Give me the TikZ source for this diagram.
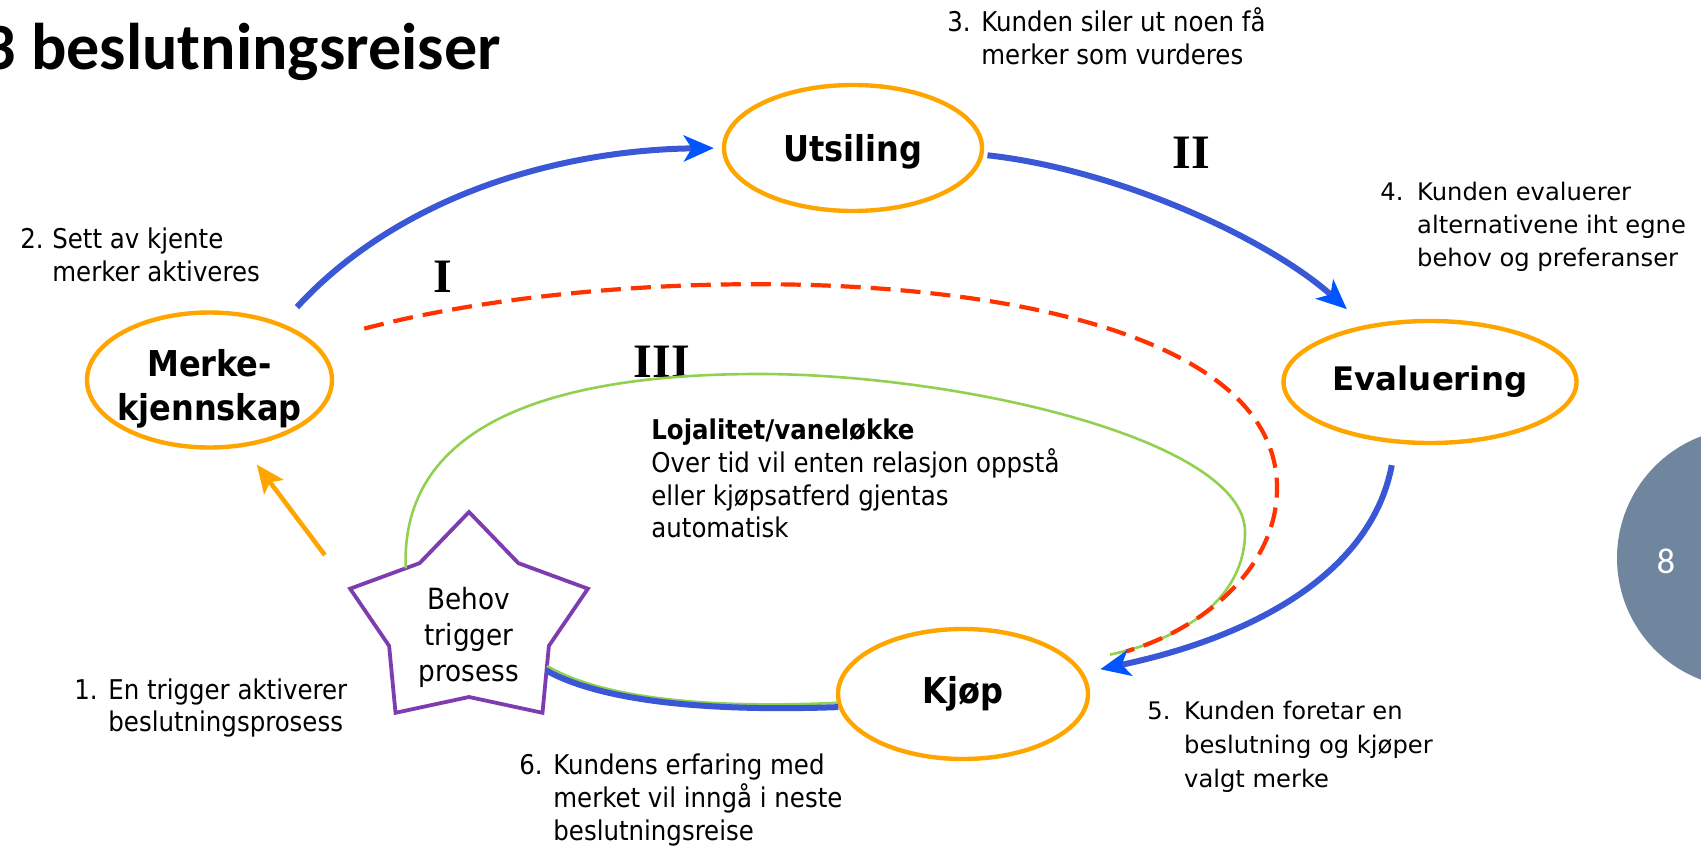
\documentclass[tikz,border=0pt]{standalone}
\usepackage{fontspec}
\setmainfont{DejaVu Sans Condensed}
\newfontfamily\widesans{DejaVu Sans}
\newfontfamily\headfont{Carlito}
\newfontfamily\numeralfont{Liberation Serif}
\usetikzlibrary{arrows.meta,calc,shapes.geometric}

\definecolor{ringorange}{RGB}{255,165,0}
\definecolor{flowblue}{RGB}{58,88,214}
\definecolor{tipblue}{RGB}{0,85,255}
\definecolor{loopred}{RGB}{255,51,0}
\definecolor{loopgreen}{RGB}{146,208,80}
\definecolor{starpurple}{RGB}{125,60,175}
\definecolor{slate}{RGB}{112,134,158}

\begin{document}
\begin{tikzpicture}[x=0.5pt,y=-0.5pt,
  stagering/.style={ellipse, draw=ringorange, line width=2.2pt, inner sep=0pt},
  stagetext/.style={inner sep=0pt, align=center, font=\bfseries\fontsize{17.8}{22}\selectfont},
  notetext/.style={inner sep=0pt, anchor=base west, font=\fontsize{13.6}{16.3}\selectfont},
  widenote/.style={inner sep=0pt, anchor=base west, font=\widesans\fontsize{12.1}{16.3}\selectfont},
  numeral/.style={inner sep=0pt, font=\numeralfont\bfseries\fontsize{24}{24}\selectfont},
  flowarrow/.style={draw=flowblue, line width=3pt, -{Stealth[length=15pt,width=13pt,inset=4pt,color=tipblue]}},
  flowline/.style={draw=flowblue, line width=3pt},
  habitloop/.style={draw=loopred, line width=2.1pt, dash pattern=on 10pt off 5pt},
  loyalloop/.style={draw=loopgreen, line width=1.3pt},
  triggerarrow/.style={draw=ringorange, line width=2.3pt, -{Stealth[length=14pt,width=12pt,inset=3pt]}},
  starline/.style={draw=starpurple, line width=1.9pt, fill=white, line join=miter},
]
\useasboundingbox (0,0) rectangle (1701,850);
\clip (0,0) rectangle (1701,850);

% page number disc
\fill[slate] (1747,558) circle (65pt);
\node[inner sep=0pt, text=white, font=\headfont\fontsize{18}{18}\selectfont] (pagenum) at (1666,561) {8};

% heading
\node[anchor=base east, inner sep=0pt, font=\headfont\bfseries\fontsize{33}{33}\selectfont] (heading) at (501,70) {3 beslutningsreiser};

% the four stages
\node[stagering, minimum width=129pt, minimum height=63pt] (utsiling) at (853,148) {};
\node[stagetext] (utsiling-t) at (853,152) {Utsiling};
\node[stagering, minimum width=122.5pt, minimum height=67.5pt] (merke) at (209.5,380) {};
\node[stagetext] (merke-t) at (209.5,389) {Merke-\\kjennskap};
\node[stagering, minimum width=146.5pt, minimum height=61pt] (evaluering) at (1430,382) {};
\node[stagetext, font=\widesans\bfseries\fontsize{16.2}{20}\selectfont] (evaluering-t) at (evaluering) {Evaluering};
\node[stagering, minimum width=125pt, minimum height=65pt] (kjop) at (963,694) {};
\node[stagetext] (kjop-t) at (kjop) {Kjøp};

% trigger star
\foreach \k in {0,...,4} {
  \coordinate (so\k) at ({469+125*sin(72*\k)}, {623-111*cos(72*\k)});
  \coordinate (si\k) at ({469+84*sin(72*\k+36)}, {623-74*cos(72*\k+36)});
}
\draw[starline] (so0) -- (si0) -- (so1) -- (si1) -- (so2) -- (si2) -- (so3) -- (si3) -- (so4) -- (si4) -- cycle;
\node[inner sep=0pt, align=center, font=\fontsize{14.6}{18}\selectfont] (startext) at (469,637) {Behov\\trigger\\prosess};

% step notes
\node[notetext] (step1) at (74,699) {\begin{tabular}[t]{@{}l@{}l@{}}\makebox[17pt][l]{1.}&En trigger aktiverer\\&beslutningsprosess\end{tabular}};
\node[notetext] (step2) at (20,249) {\begin{tabular}[t]{@{}l@{}l@{}}\makebox[16pt][l]{2.}&Sett av kjente\\&merker aktiveres\end{tabular}};
\node[notetext] (step3) at (947,32) {\begin{tabular}[t]{@{}l@{}l@{}}\makebox[17pt][l]{3.}&Kunden siler ut noen få\\&merker som vurderes\end{tabular}};
\node[widenote] (step4) at (1380,201) {\begin{tabular}[t]{@{}l@{}l@{}}\makebox[18.4pt][l]{4.}&Kunden evaluerer\\&alternativene iht egne\\&behov og preferanser\end{tabular}};
\node[widenote, font=\widesans\fontsize{12.1}{17}\selectfont] (step5) at (1147,719) {\begin{tabular}[t]{@{}l@{}l@{}}\makebox[18.4pt][l]{5.}&Kunden foretar en\\&beslutning og kjøper\\&valgt merke\end{tabular}};
\node[notetext] (step6) at (519,774) {\begin{tabular}[t]{@{}l@{}l@{}}\makebox[17pt][l]{6.}&Kundens erfaring med\\&merket vil inngå i neste\\&beslutningsreise\end{tabular}};
\node[notetext] (loyalnote) at (651,439) {\begin{tabular}[t]{@{}l@{}}\textbf{Lojalitet/vaneløkke}\\Over tid vil enten relasjon oppstå\\eller kjøpsatferd gjentas\\automatisk\end{tabular}};

% journey numerals
\node[numeral] (journey1) at (443,277) {I};
\node[numeral] (journey2) at (1191,153) {II};
\node[numeral] (journey3) at (662,362) {III};

% loyalty loop (green) from the trigger round to the purchase and back
\coordinate (loyaltop) at (759,374);
\coordinate (loyalright) at (1245,532);
\draw[loyalloop, shorten >=18pt] ($(si4)!0.2!(so4)$) .. controls (400,420) and (560,374) .. (loyaltop)
  .. controls (960,374) and (1245,440) .. (loyalright)
  .. controls (1245,600) and (1180,640) .. (kjop.16);
\draw[loyalloop] (kjop.184) .. controls (700,709) and (600,697) .. ($(si1)!0.3!(so2)$);

% habitual journey (red dashed)
\coordinate (habitturn) at (1277,488);
\draw[habitloop, shorten <=26pt, shorten >=25pt] (merke.20) .. controls (661,250) and (1277,260) .. (habitturn)
  .. controls (1277,570) and (1200,630) .. (kjop.14);

% full decision journey (blue)
\draw[flowarrow, shorten <=11pt, shorten >=4pt] (merke.38) .. controls (400,195) and (560,150) .. (utsiling.180);
\draw[flowarrow, shorten <=2pt, shorten >=12pt] (utsiling.-3) .. controls (1120,170) and (1270,240) .. (evaluering.139);
\draw[flowarrow, shorten <=11pt, shorten >=8.5pt] (evaluering.-119) .. controls (1370,580) and (1240,640) .. (kjop.10);
\draw[flowline] (kjop.186) .. controls (700,712) and (600,700) .. ($(si1)!0.37!(so2)$);

% trigger activates brand awareness
\draw[triggerarrow, shorten <=21pt, shorten >=11pt] (so4) -- (merke.-63);
\end{tikzpicture}
\end{document}
